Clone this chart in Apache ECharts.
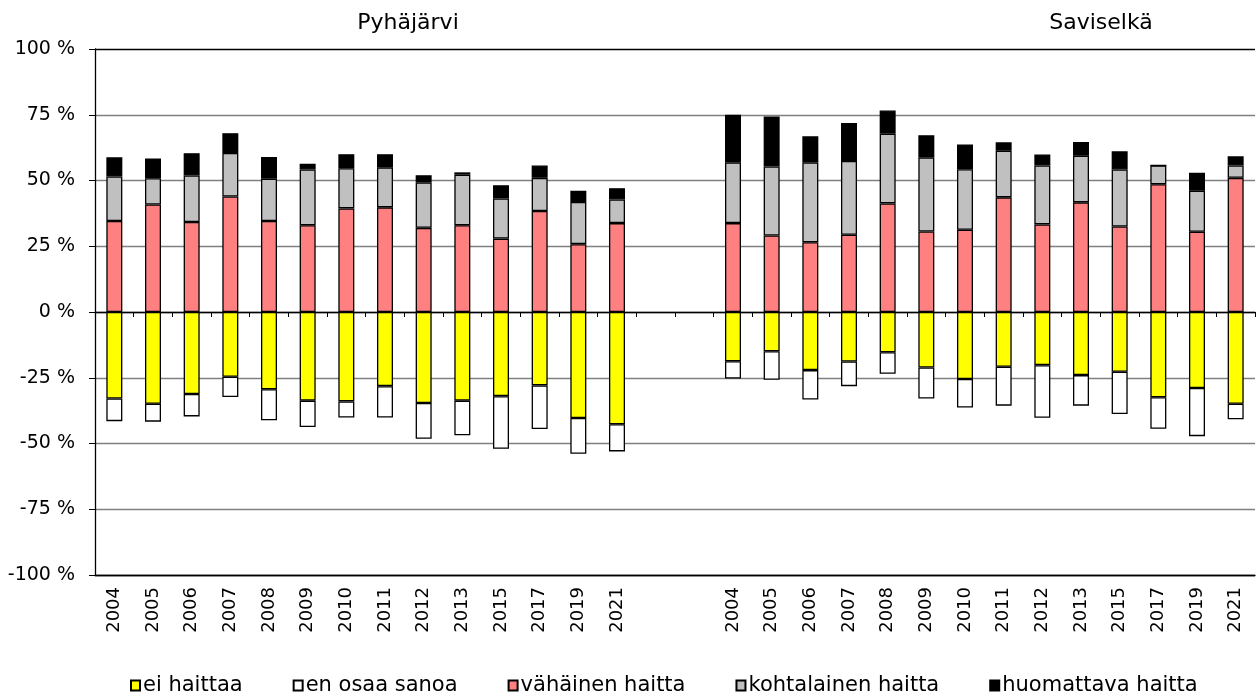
<!DOCTYPE html>
<html>
<head>
<meta charset="utf-8">
<script src="https://cdn.jsdelivr.net/npm/echarts@6/dist/echarts.min.js"></script>
<style>html,body{margin:0;padding:0;background:#fff}#c{width:1258px;height:696px}</style>
</head>
<body>
<div id="c"></div>
<script>
// ---- data ----
const years = ['2004','2005','2006','2007','2008','2009','2010','2011','2012','2013','2015','2017','2019','2021'];
const lakes = ['Pyhäjärvi', 'Saviselkä'];
const seriesNames = ['ei haittaa', 'en osaa sanoa', 'vähäinen haitta', 'kohtalainen haitta', 'huomattava haitta'];
const yTicks = [-100, -75, -50, -25, 0, 25, 50, 75, 100];

// Pyhäjärvi (%)
const pyhEi   = [-32.9, -34.9, -31.2, -24.6, -29.4, -33.7, -34.0, -28.2, -34.6, -33.7, -32.0, -27.9, -40.3, -42.7];
const pyhEos  = [-8.6, -6.8, -8.5, -7.7, -11.8, -10.0, -6.1, -11.9, -13.6, -13.2, -20.0, -16.6, -13.6, -10.3];
const pyhVah  = [34.6, 40.9, 34.2, 43.9, 34.6, 33.0, 39.4, 39.8, 32.0, 33.0, 27.9, 38.4, 25.8, 33.8];
const pyhKoh  = [16.9, 10.0, 17.7, 16.6, 16.1, 21.2, 15.3, 15.2, 17.3, 19.2, 15.3, 12.6, 16.0, 9.0];
const pyhHuom = [7.3, 7.5, 8.5, 7.5, 8.2, 2.2, 5.3, 5.0, 2.7, 0.9, 5.0, 4.7, 4.3, 4.3];

// Saviselkä (%)
const savEi   = [-18.7, -14.9, -22.1, -18.8, -15.3, -21.1, -25.5, -20.8, -20.2, -24.0, -22.7, -32.4, -28.9, -34.9];
const savEos  = [-6.6, -10.9, -11.2, -9.4, -8.2, -11.8, -10.8, -14.8, -20.0, -11.6, -16.1, -12.0, -18.3, -5.9];
const savVah  = [33.8, 29.1, 26.5, 29.4, 41.3, 30.6, 31.3, 43.6, 33.3, 41.7, 32.5, 48.6, 30.5, 51.0];
const savKoh  = [23.1, 26.2, 30.4, 28.0, 26.5, 28.2, 23.0, 17.7, 22.4, 17.7, 21.7, 7.1, 15.6, 4.7];
const savHuom = [18.1, 19.0, 9.9, 14.5, 8.8, 8.4, 9.4, 3.2, 4.2, 5.2, 6.9, 0.0, 6.8, 3.5];

// ---- build ----
const GAP = 2;
const cats = [];
years.forEach(y => cats.push('P|' + y));
for (let i = 0; i < GAP; i++) cats.push('G|' + i);
years.forEach(y => cats.push('S|' + y));
const gapNulls = new Array(GAP).fill(null);
const join = (a, b) => a.concat(gapNulls, b);

const seriesData = [
  join(pyhEi, savEi),
  join(pyhEos, savEos),
  join(pyhVah, savVah),
  join(pyhKoh, savKoh),
  join(pyhHuom, savHuom)
];
const colors = ['#FFFF00', '#FFFFFF', '#FF8080', '#C0C0C0', '#000000'];
const FONT = 'DejaVu Sans';

const chart = echarts.init(document.getElementById('c'), null, {renderer: 'canvas'});
const gridColors = yTicks.map(v => (v === 100 || v === -100) ? '#000' : '#808080');

chart.setOption({
  animation: false,
  textStyle: {fontFamily: FONT},
  title: [
    {text: lakes[0], left: 403, top: 7, textAlign: 'center',
     textStyle: {fontFamily: FONT, fontSize: 22, fontWeight: 'normal', color: '#000'}},
    {text: lakes[1], left: 1096, top: 7, textAlign: 'center',
     textStyle: {fontFamily: FONT, fontSize: 22, fontWeight: 'normal', color: '#000'}}
  ],
  legend: {
    data: seriesNames,
    top: 670,
    left: 125,
    itemWidth: 9,
    itemHeight: 10,
    itemGap: 50,
    icon: 'rect',
    textStyle: {fontFamily: FONT, fontSize: 21, color: '#000', padding: [0, 0, 0, -2]}
  },
  grid: {left: 95, right: 3, top: 49, bottom: 121, containLabel: false},
  xAxis: [
    {
      type: 'category', data: cats, position: 'bottom',
      axisLine: {onZero: false, lineStyle: {color: '#000', width: 1.3}},
      axisTick: {show: false},
      axisLabel: {
        interval: 0, rotate: 90, margin: 12, fontFamily: FONT, fontSize: 18, color: '#000',
        formatter: v => v.startsWith('G|') ? '' : v.split('|')[1]
      },
      splitLine: {show: false}
    },
    {
      type: 'category', data: cats, position: 'top',
      axisLine: {onZero: true, lineStyle: {color: '#000', width: 1.3}},
      axisTick: {show: true, inside: true, length: 5, interval: 0, lineStyle: {color: '#000'}},
      axisLabel: {show: false},
      splitLine: {show: false}
    }
  ],
  yAxis: {
    type: 'value', min: -100, max: 100, interval: 25,
    axisLine: {show: true, lineStyle: {color: '#000', width: 1.3}},
    axisTick: {show: true, length: 6, lineStyle: {color: '#000'}},
    axisLabel: {margin: 20, fontFamily: FONT, fontSize: 19, color: '#000', formatter: v => v + ' %'},
    splitLine: {show: true, lineStyle: {color: gridColors, width: 1.3}}
  },
  series: seriesNames.map((name, i) => ({
    name: name,
    type: 'bar',
    stack: 'all',
    xAxisIndex: 0,
    barWidth: 16,
    data: seriesData[i],
    itemStyle: {color: colors[i], borderColor: '#000', borderWidth: 1.3},
    emphasis: {disabled: true}
  }))
});
</script>
</body>
</html>
